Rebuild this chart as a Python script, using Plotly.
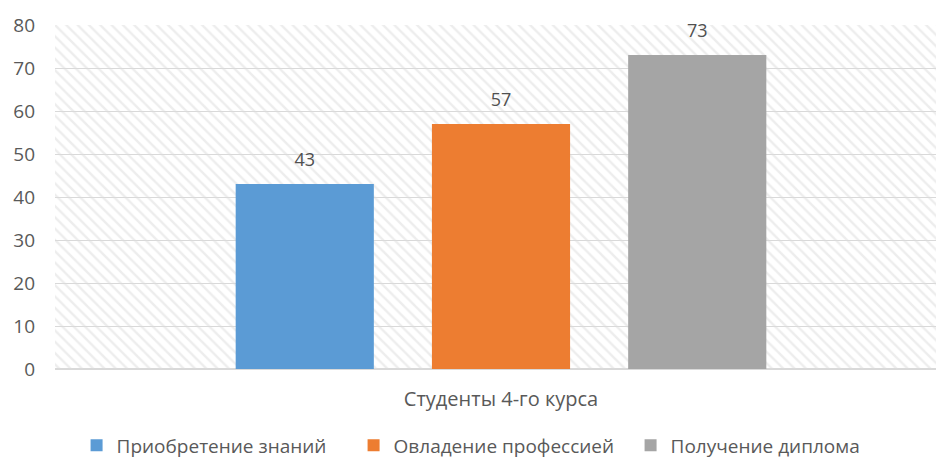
import plotly.graph_objects as go

categories = ["Студенты 4-го курса"]
series_names = ["Приобретение знаний", "Овладение профессией", "Получение диплома"]
series_values = [[43], [57], [73]]
colors = ["#5b9bd5", "#ed7d31", "#a5a5a5"]
y_ticks = [0, 10, 20, 30, 40, 50, 60, 70, 80]

fig = go.Figure()

# hatched plot background
fig.add_trace(go.Bar(
    x=[0.5], y=[max(y_ticks)], width=[1], xaxis="x", yaxis="y",
    marker=dict(color="rgba(0,0,0,0)", line=dict(width=0),
                pattern=dict(shape="\\", fgcolor="#dcdcdc", bgcolor="rgba(0,0,0,0)",
                             size=8, solidity=0.3)),
    showlegend=False, hoverinfo="skip",
))

for name, vals, c in zip(series_names, series_values, colors):
    fig.add_trace(go.Bar(
        x=categories, y=vals, name=name, xaxis="x2", yaxis="y",
        marker=dict(color=c, line=dict(width=0)),
        text=vals, textposition="outside", cliponaxis=False,
        texttemplate="<span style='font-size:18px'>%{y}</span><br> ",
        textfont=dict(size=9, color="#505050"),
    ))

fig.update_layout(
    width=947, height=460,
    margin=dict(l=55, r=0, t=25, b=91, autoexpand=False),
    paper_bgcolor="white", plot_bgcolor="white",
    font=dict(family="Open Sans", color="#595959"),
    barmode="group", bargap=0.34, bargroupgap=0.296,
    xaxis=dict(range=[0, 1], visible=False, fixedrange=True),
    xaxis2=dict(overlaying="x", showgrid=False, showline=False, ticks="",
                tickfont=dict(size=20, color="#595959"), ticklabelstandoff=16),
    yaxis=dict(range=[0, 80], tickvals=y_ticks, showgrid=True, gridcolor="#d9d9d9",
               gridwidth=1, zeroline=True, zerolinecolor="#d9d9d9", showline=False,
               tickfont=dict(size=19, color="#595959"), ticklabelstandoff=19),
    legend=dict(orientation="h", x=0.49, xanchor="center", y=-0.222, yanchor="middle",
                font=dict(size=19, color="#595959"), itemwidth=30, traceorder="normal",
                entrywidth=232, entrywidthmode="pixels", tracegroupgap=0),
)

fig.write_html("out.html", config={"displayModeBar": False},
               post_script="document.body.style.margin='0';document.body.style.overflow='hidden';document.documentElement.style.overflow='hidden';")
